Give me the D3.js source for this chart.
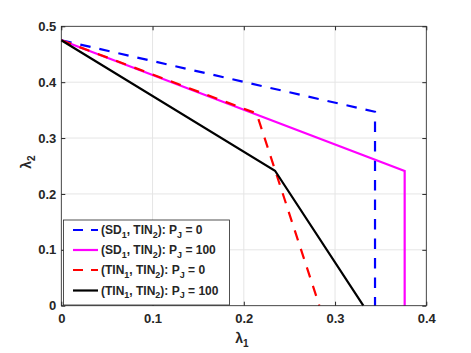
<!DOCTYPE html>
<html><head><meta charset="utf-8">
<script src="https://cdn.jsdelivr.net/npm/d3@7"></script>
<style>body{margin:0;background:#fff}svg{display:block}text{font-family:"Liberation Sans",Arial,sans-serif;font-weight:bold;fill:#262626}</style>
</head><body>
<svg id="c" width="471" height="353"></svg>
<script>
const xTicks = [0, 0.1, 0.2, 0.3, 0.4];
const yTicks = [0, 0.1, 0.2, 0.3, 0.4, 0.5];
const sdTinP0 = [[0, 0.475], [0.3438, 0.347], [0.3438, 0]];
const sdTinP100 = [[0, 0.475], [0.3763, 0.241], [0.3763, 0]];
const tinTinP0 = [[0, 0.475], [0.214, 0.344], [0.2828, 0]];
const tinTinP100 = [[0, 0.475], [0.2342, 0.2416], [0.331, 0]];
const legendLabels = [
  [["(SD",""],["1","sub"],[", TIN",""],["2","sub"],["): P",""],["J","sub"],[" = 0",""]],
  [["(SD",""],["1","sub"],[", TIN",""],["2","sub"],["): P",""],["J","sub"],[" = 100",""]],
  [["(TIN",""],["1","sub"],[", TIN",""],["2","sub"],["): P",""],["J","sub"],[" = 0",""]],
  [["(TIN",""],["1","sub"],[", TIN",""],["2","sub"],["): P",""],["J","sub"],[" = 100",""]]
];
const styles = [
  {color:"#0000ff", dash:"10.5,9"},
  {color:"#ff00ff", dash:null},
  {color:"#ff0000", dash:"10.5,9"},
  {color:"#000000", dash:null}
];
const allData = [sdTinP0, sdTinP100, tinTinP0, tinTinP100];

const L = 61.3, R = 426.3, T = 26.3, B = 305.7;
const x = d3.scaleLinear().domain([0, 0.4]).range([L, R]);
const y = d3.scaleLinear().domain([0, 0.5]).range([B, T]);
const svg = d3.select("#c");

// grid
svg.append("g").selectAll("line").data(xTicks).join("line")
  .attr("x1", d => x(d)).attr("x2", d => x(d)).attr("y1", T).attr("y2", B)
  .attr("stroke", "#e5e5e5").attr("stroke-width", 1);
svg.append("g").selectAll("line").data(yTicks).join("line")
  .attr("y1", d => y(d)).attr("y2", d => y(d)).attr("x1", L).attr("x2", R)
  .attr("stroke", "#e5e5e5").attr("stroke-width", 1);

// axes
const fmt = d => d === 0 ? "0" : d3.format(".1f")(d);
const ax = (g) => { g.select(".domain").remove(); g.selectAll(".tick line").attr("stroke", "#262626"); g.selectAll("text").style("font-size", "13px").style("font-weight","bold").attr("fill","#262626"); };
svg.append("g").attr("transform", `translate(0,${B})`)
  .call(d3.axisBottom(x).tickValues(xTicks).tickFormat(fmt).tickSizeInner(-4).tickSizeOuter(0).tickPadding(8)).call(ax);
svg.append("g").attr("transform", `translate(0,${T})`)
  .call(d3.axisTop(x).tickValues(xTicks).tickFormat("").tickSizeInner(-4).tickSizeOuter(0)).call(ax);
svg.append("g").attr("transform", `translate(${L},0)`)
  .call(d3.axisLeft(y).tickValues(yTicks).tickFormat(fmt).tickSizeInner(-4).tickSizeOuter(0).tickPadding(5)).call(ax);
svg.append("g").attr("transform", `translate(${R},0)`)
  .call(d3.axisRight(y).tickValues(yTicks).tickFormat("").tickSizeInner(-4).tickSizeOuter(0)).call(ax);

// lines
const line = d3.line().x(d => x(d[0])).y(d => y(d[1]));
allData.forEach((data, i) => {
  svg.append("path").datum(data).attr("d", line).attr("fill", "none")
    .attr("stroke", styles[i].color).attr("stroke-width", 2.2)
    .attr("stroke-dasharray", styles[i].dash).attr("stroke-linejoin", "miter");
});

// box
svg.append("rect").attr("x", L).attr("y", T).attr("width", R - L).attr("height", B - T)
  .attr("fill", "none").attr("stroke", "#262626").attr("stroke-width", 0.8);

// legend
const lg = svg.append("g");
lg.append("rect").attr("x", 63.5).attr("y", 220).attr("width", 166).attr("height", 85)
  .attr("fill", "#fff").attr("stroke", "#262626").attr("stroke-width", 0.8);
const ly = [230, 250, 270, 290.5];
legendLabels.forEach((parts, i) => {
  lg.append("line").attr("x1", 73).attr("x2", 98).attr("y1", ly[i]).attr("y2", ly[i])
    .attr("stroke", styles[i].color).attr("stroke-width", 2.2).attr("stroke-dasharray", styles[i].dash ? "10,8" : null);
  const t = lg.append("text").attr("x", 101).attr("y", ly[i] + 4.3).style("font-size", "12px");
  let prevSub = false;
  parts.forEach(([s, k]) => {
    if (k === "sub") { t.append("tspan").attr("dy", 3.5).style("font-size", "9px").text(s); prevSub = true; }
    else { t.append("tspan").attr("dy", prevSub ? -3.5 : 0).text(s); prevSub = false; }
  });
});

// axis labels
const xl = svg.append("text").attr("x", 242).attr("y", 343).attr("text-anchor", "middle").style("font-size", "14px");
xl.append("tspan").text("λ");
xl.append("tspan").attr("dy", 4).style("font-size", "10px").text("1");
const yl = svg.append("text").attr("transform", "translate(31,162) rotate(-90)").attr("text-anchor", "middle").style("font-size", "14px");
yl.append("tspan").text("λ");
yl.append("tspan").attr("dy", 4).style("font-size", "10px").text("2");
</script>
</body></html>
